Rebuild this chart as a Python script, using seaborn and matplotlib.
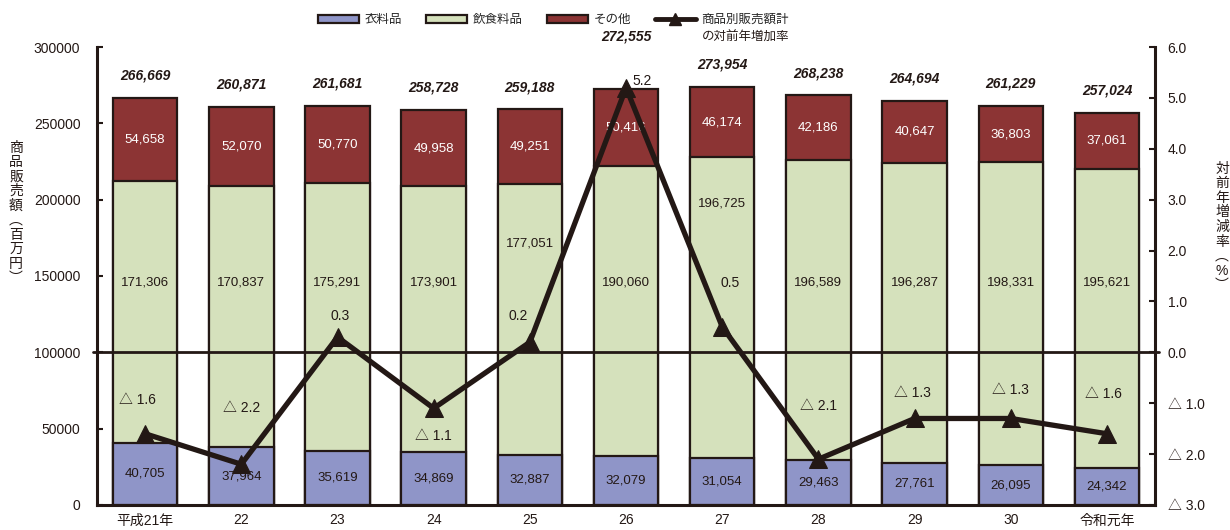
import numpy as np
import matplotlib
matplotlib.use("Agg")
import matplotlib.pyplot as plt
import seaborn as sns
from matplotlib.patches import Patch
from matplotlib.lines import Line2D
from matplotlib.ticker import FuncFormatter, MultipleLocator

sns.set_style("white")
plt.rcParams['font.family'] = ['Liberation Sans', 'Noto Sans CJK JP', 'DejaVu Sans']

# data
years = ['平成21年', '22', '23', '24', '25', '26', '27', '28', '29', '30', '令和元年']
clothing = [40705, 37964, 35619, 34869, 32887, 32079, 31054, 29463, 27761, 26095, 24342]
food = [171306, 170837, 175291, 173901, 177051, 190060, 196725, 196589, 196287, 198331, 195621]
other = [54658, 52070, 50770, 49958, 49251, 50416, 46174, 42186, 40647, 36803, 37061]
totals = [266669, 260871, 261681, 258728, 259188, 272555, 273954, 268238, 264694, 261229, 257024]
rate = [-1.6, -2.2, 0.3, -1.1, 0.2, 5.2, 0.5, -2.1, -1.3, -1.3, -1.6]

c_blue = '#8f95c8'
c_green = '#d5e1bc'
c_red = '#8c3434'
c_dark = '#231815'

n = len(years)
xpos = np.arange(n)
top_green = np.array(clothing) + np.array(food)
top_red = top_green + np.array(other)

fig = plt.figure(figsize=(12.3, 5.3), dpi=100)
ax = fig.add_axes([0.0789, 0.0472, 0.8602, 0.8641])

# stacked bars drawn as layered cumulative bars
for tops, col in [(top_red, c_red), (top_green, c_green), (clothing, c_blue)]:
    sns.barplot(x=years, y=tops, order=years, color=col, saturation=1,
                edgecolor=c_dark, linewidth=1.6, width=0.67, ax=ax)

ax.set_ylim(0, 300000)
ax.set_xlim(-0.5, n - 0.5)
ax.set_xlabel('')
ax.set_ylabel('')
ax.yaxis.set_major_locator(MultipleLocator(50000))
ax.tick_params(axis='y', direction='in', length=4, width=1.5, pad=12, labelsize=10,
               colors=c_dark)
ax.tick_params(axis='x', which='major', length=0, pad=6, labelsize=10, colors=c_dark)
ax.set_xticks(xpos[:-1] + 0.5, minor=True)
ax.tick_params(axis='x', which='minor', direction='in', length=4, width=1.5, color=c_dark)
for s in ['top', 'right']:
    ax.spines[s].set_visible(False)
for s in ['left', 'bottom']:
    ax.spines[s].set_linewidth(2.2)
    ax.spines[s].set_color(c_dark)

# segment labels
green_label_y = [146000] * n
green_label_y[4] = 171600
green_label_y[6] = 197800
for i in range(n):
    ax.text(i, clothing[i] / 2, f'{clothing[i]:,}', ha='center', va='center',
            fontsize=9.5, color=c_dark)
    ax.text(i, green_label_y[i], f'{food[i]:,}', ha='center', va='center',
            fontsize=9.5, color=c_dark)
    ax.text(i, top_green[i] + other[i] / 2, f'{other[i]:,}', ha='center', va='center',
            fontsize=9.5, color='white')
    extra = 22 if i == 5 else 0
    ax.annotate(f'{totals[i]:,}', (i, top_red[i]), xytext=(0, 11 + extra),
                textcoords='offset points', ha='center', va='bottom', fontsize=10,
                fontweight='bold', fontstyle='italic', color=c_dark)

# growth rate line
ax2 = ax.twinx()
ax2.set_ylim(-3, 6)
ax2.axhline(0, xmin=-0.004, xmax=1.004, color=c_dark, lw=2, clip_on=False, zorder=1)
sns.lineplot(x=xpos, y=rate, ax=ax2, color=c_dark, lw=3.8, marker='^', markersize=13,
             markeredgecolor=c_dark, zorder=3)
ax2.set_xlim(-0.5, n - 0.5)
ax2.set_ylabel('')
ax2.yaxis.set_major_locator(MultipleLocator(1.0))
ax2.yaxis.set_major_formatter(FuncFormatter(
    lambda v, p: f'△ {abs(v):.1f}' if v < -0.01 else f'{abs(v):.1f}'))
ax2.tick_params(axis='y', direction='in', length=4, width=1.5, pad=9, labelsize=10,
                colors=c_dark)
for s in ['top', 'left', 'bottom']:
    ax2.spines[s].set_visible(False)
ax2.spines['right'].set_linewidth(2.2)
ax2.spines['right'].set_color(c_dark)

label_offsets = [(-0.08, 0.66), (0.0, 1.1), (0.03, 0.42), (0.0, -0.54), (-0.12, 0.52),
                 (0.17, 0.14), (0.08, 0.86), (0.0, 1.05), (-0.02, 0.5), (0.0, 0.55),
                 (-0.04, 0.78)]
for i, v in enumerate(rate):
    txt = f'△ {abs(v):.1f}' if v < 0 else f'{v:.1f}'
    dx, dy = label_offsets[i]
    ax2.text(i + dx, v + dy, txt, ha='center', va='center', fontsize=10, color=c_dark,
             zorder=4)

# axis titles, written vertically
fig.text(16 / 1230, 1 - 213 / 530, '\n'.join('商品販売額︵百万円︶'), ha='center',
         va='center', fontsize=10, linespacing=1.05, color=c_dark)
fig.text(1222 / 1230, 1 - 227 / 530, '\n'.join('対前年増減率︵%︶'), ha='center',
         va='center', fontsize=10, linespacing=1.05, color=c_dark)

# legend
handles = [Patch(facecolor=c_blue, edgecolor=c_dark, linewidth=1.6),
           Patch(facecolor=c_green, edgecolor=c_dark, linewidth=1.6),
           Patch(facecolor=c_red, edgecolor=c_dark, linewidth=1.6),
           Line2D([], [], color=c_dark, lw=3.5, marker='^', markersize=8)]
labels = ['衣料品', '飲食料品', 'その他', '商品別販売額計']
leg = fig.legend(handles, labels, loc='center', bbox_to_anchor=(0.45, 1 - 20 / 530),
                 ncol=4, frameon=False, fontsize=9, handlelength=3.3,
                 handleheight=0.6, columnspacing=1.9, handletextpad=0.45)
fig.canvas.draw()
bb = leg.get_texts()[3].get_window_extent().transformed(fig.transFigure.inverted())
fig.text(bb.x0, bb.y0 - 0.01, 'の対前年増加率', ha='left', va='top', fontsize=9,
         color=c_dark)

fig.savefig('out.png', dpi=100)
